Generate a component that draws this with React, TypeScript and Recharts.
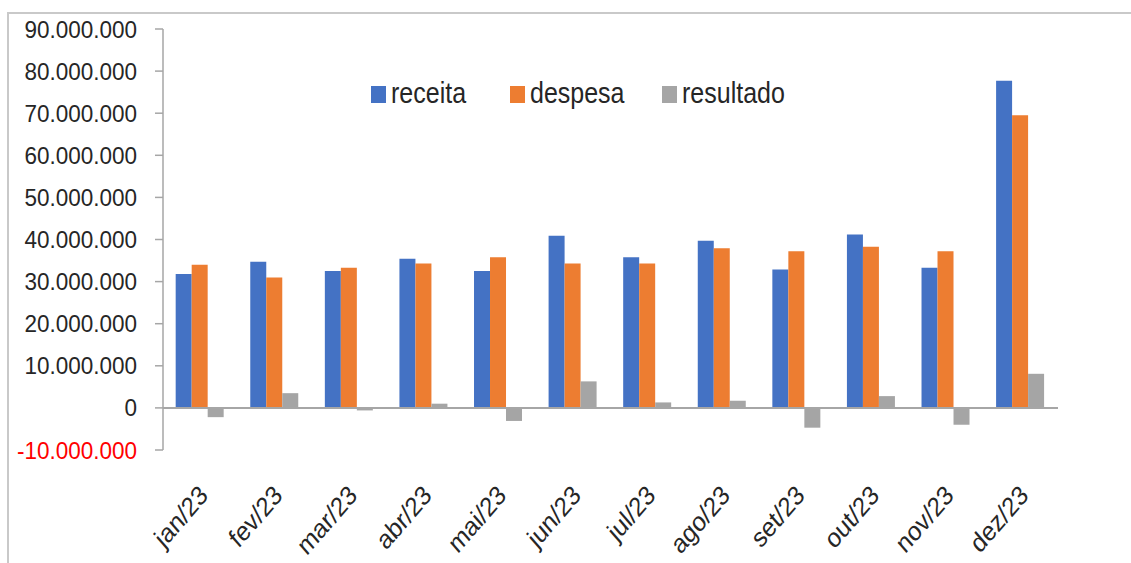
import React from "react";
import { BarChart, Bar, XAxis, YAxis, ReferenceLine } from "recharts";

const months = ["jan/23", "fev/23", "mar/23", "abr/23", "mai/23", "jun/23", "jul/23", "ago/23", "set/23", "out/23", "nov/23", "dez/23"];
const receita = [31.8, 34.7, 32.5, 35.4, 32.5, 40.9, 35.8, 39.7, 32.9, 41.2, 33.3, 77.7].map((v) => v * 1e6);
const despesa = [34.0, 31.0, 33.3, 34.3, 35.8, 34.3, 34.3, 37.9, 37.2, 38.3, 37.2, 69.5].map((v) => v * 1e6);
const resultado = [-2.2, 3.5, -0.6, 1.0, -3.1, 6.3, 1.3, 1.7, -4.7, 2.8, -4.0, 8.1].map((v) => v * 1e6);
const yTicks = [-10e6, 0, 10e6, 20e6, 30e6, 40e6, 50e6, 60e6, 70e6, 80e6, 90e6];

const seriesNames = ["receita", "despesa", "resultado"];
const seriesColors = ["#4472C4", "#ED7D31", "#A5A5A5"];
const legendX = [371, 510, 662];

const data = months.map((m, i) => ({
  month: m,
  receita: receita[i],
  despesa: despesa[i],
  resultado: resultado[i],
}));

const FONT = "'Liberation Sans', Arial, sans-serif";

const fmt = (v: number) => {
  if (v === 0) return "0";
  const s = Math.abs(v).toFixed(0).replace(/\B(?=(\d{3})+(?!\d))/g, ".");
  return (v < 0 ? "-" : "") + s;
};

const YTick = (props: any) => {
  const { x, y, payload } = props;
  const v = payload.value;
  return (
    <g transform={`translate(${x},${y}) scale(1,1.06)`}>
      <text x={0} y={0} dy="0.36em" textAnchor="end" fontFamily={FONT} fontSize={22.5} fill={v < 0 ? "#FF0000" : "#262626"}>
        {fmt(v)}
      </text>
    </g>
  );
};

const XTick = (props: any) => {
  const { x, y, payload } = props;
  return (
    <g transform={`translate(${x + 3},${y + 40}) scale(1,1.15) rotate(-45)`}>
      <text x={0} y={0} dy="0.36em" textAnchor="end" fontFamily={FONT} fontSize={23.5} fill="#262626">
        {payload.value}
      </text>
    </g>
  );
};

export default function App() {
  return (
    <div style={{ position: "absolute", left: 0, top: 0, width: 1131, height: 563, background: "#fff", overflow: "hidden" }}>
      <div style={{ position: "absolute", left: 7, top: 12, width: 1124, height: 551, borderTop: "2px solid #c9c9c9", borderLeft: "2px solid #c9c9c9", boxSizing: "border-box" }} />
      <div style={{ position: "absolute", left: 0, top: 0 }}>
        <BarChart
          width={1131}
          height={563}
          data={data}
          margin={{ top: 29, right: 73, bottom: 112, left: 0 }}
          barCategoryGap="17%"
          barGap={0}
        >
          <XAxis dataKey="month" axisLine={false} tickLine={false} tickSize={0} tickMargin={0} height={1} tick={<XTick />} interval={0} />
          <YAxis
            width={163}
            domain={[-10e6, 90e6]}
            ticks={yTicks}
            interval={0}
            tickSize={8}
            tickMargin={18}
            axisLine={{ stroke: "#a6a6a6", strokeWidth: 1.5 }}
            tickLine={{ stroke: "#a6a6a6", strokeWidth: 1.5 }}
            tick={<YTick />}
          />
          <Bar dataKey="receita" name="receita" fill={seriesColors[0]} isAnimationActive={false} />
          <Bar dataKey="despesa" name="despesa" fill={seriesColors[1]} isAnimationActive={false} />
          <Bar dataKey="resultado" name="resultado" fill={seriesColors[2]} isAnimationActive={false} />
          <ReferenceLine y={0} stroke="#a6a6a6" strokeWidth={2} />
        </BarChart>
      </div>
      <svg width={1131} height={563} style={{ position: "absolute", left: 0, top: 0, pointerEvents: "none" }}>
        {seriesNames.map((n, i) => (
          <g key={n}>
            <rect x={legendX[i]} y={86} width={15} height={17} fill={seriesColors[i]} />
            <g transform={`translate(${legendX[i] + 20},103) scale(1,1.15)`}>
              <text x={0} y={0} fontFamily={FONT} fontSize={25} fill="#262626">{n}</text>
            </g>
          </g>
        ))}
      </svg>
    </div>
  );
}
